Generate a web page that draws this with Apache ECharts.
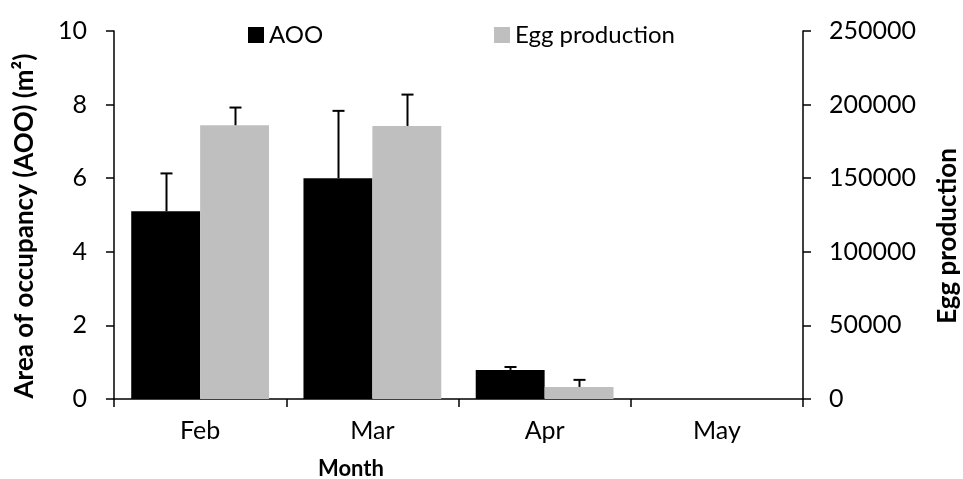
<!DOCTYPE html>
<html>
<head>
<meta charset="utf-8">
<script src="https://cdn.jsdelivr.net/npm/echarts@6/dist/echarts.min.js"></script>
<style>html,body{margin:0;padding:0;background:#fff}#c{width:963px;height:479px}</style>
</head>
<body>
<div id="c"></div>
<script>
const months = ['Feb', 'Mar', 'Apr', 'May'];
const aooValues = [5.1, 6.0, 0.79, 0];
const aooErr = [1.03, 1.83, 0.08, 0];
const eggValues = [186000, 185500, 8200, 0];
const eggErr = [12000, 21300, 4800, 0];
const leftTicks = [0, 2, 4, 6, 8, 10];
const rightTicks = [0, 50000, 100000, 150000, 200000, 250000];

const FONT = 'Lato';
const chart = echarts.init(document.getElementById('c'));

function errSeries(vals, errs, yIdx, offset) {
  return {
    type: 'custom',
    yAxisIndex: yIdx,
    z: 10,
    silent: true,
    encode: {x: 0, y: 1},
    data: vals.map((v, i) => [i, v, errs[i]]),
    renderItem: function (params, api) {
      const idx = api.value(0), v = api.value(1), e = api.value(2);
      if (!e) return null;
      const b = api.coord([idx, v]);
      const t = api.coord([idx, v + e]);
      const band = api.size([1, 0])[0];
      const x = Math.round(b[0] + offset * band) + 0.5;
      const st = {stroke: '#000', lineWidth: 2};
      return {type: 'group', children: [
        {type: 'line', shape: {x1: x, y1: b[1], x2: x, y2: t[1]}, style: st},
        {type: 'line', shape: {x1: x - 6, y1: t[1], x2: x + 6, y2: t[1]}, style: st}
      ]};
    }
  };
}

const axisLine = {show: true, lineStyle: {color: '#000', width: 1.5}};
const axisTick = {show: true, inside: false, length: 8, lineStyle: {color: '#000', width: 1.5}};

chart.setOption({
  animation: false,
  textStyle: {fontFamily: FONT},
  legend: [
    {data: ['AOO'], left: 243, top: 18, itemWidth: 16, itemHeight: 16, itemGap: 0,
     icon: 'rect', textStyle: {fontFamily: FONT, fontSize: 24, color: '#000'}},
    {data: ['Egg production'], left: 489, top: 18, itemWidth: 16, itemHeight: 16,
     icon: 'rect', textStyle: {fontFamily: FONT, fontSize: 24, color: '#000'}}
  ],
  grid: {left: 114, right: 160, top: 31, bottom: 80, containLabel: false},
  xAxis: {
    type: 'category', data: months, boundaryGap: true,
    axisLine: axisLine, axisTick: axisTick,
    axisLabel: {fontFamily: FONT, fontSize: 25, color: '#000', margin: 19}
  },
  yAxis: [
    {type: 'value', min: 0, max: 10, interval: 2, position: 'left',
     splitLine: {show: false}, axisLine: axisLine, axisTick: axisTick,
     axisLabel: {fontFamily: FONT, fontSize: 25, color: '#000', margin: 27,
       formatter: v => leftTicks.includes(v) ? String(v) : ''}},
    {type: 'value', min: 0, max: 250000, interval: 50000, position: 'right',
     splitLine: {show: false}, axisLine: axisLine, axisTick: axisTick,
     axisLabel: {fontFamily: FONT, fontSize: 25, color: '#000', margin: 26,
       formatter: v => rightTicks.includes(v) ? String(v) : ''}}
  ],
  graphic: [
    {type: 'text', x: 25, y: 226, rotation: Math.PI / 2,
     style: {text: 'Area of occupancy (AOO) (m²)', fontFamily: FONT, fontSize: 26, fontWeight: 'bold',
       fill: '#000', align: 'center', verticalAlign: 'middle'}},
    {type: 'text', x: 948, y: 236, rotation: Math.PI / 2,
     style: {text: 'Egg production', fontFamily: FONT, fontSize: 26, fontWeight: 'bold',
       fill: '#000', align: 'center', verticalAlign: 'middle'}},
    {type: 'text', x: 351, y: 469,
     style: {text: 'Month', fontFamily: FONT, fontSize: 22, fontWeight: 'bold',
       fill: '#000', align: 'center', verticalAlign: 'middle'}}
  ],
  series: [
    {name: 'AOO', type: 'bar', yAxisIndex: 0, data: aooValues, barGap: '0%', barCategoryGap: '20%',
     itemStyle: {color: '#000000'}},
    {name: 'Egg production', type: 'bar', yAxisIndex: 1, data: eggValues, barGap: '0%', barCategoryGap: '20%',
     itemStyle: {color: '#BFBFBF'}},
    errSeries(aooValues, aooErr, 0, -0.2),
    errSeries(eggValues, eggErr, 1, 0.2)
  ]
});
</script>
</body>
</html>
